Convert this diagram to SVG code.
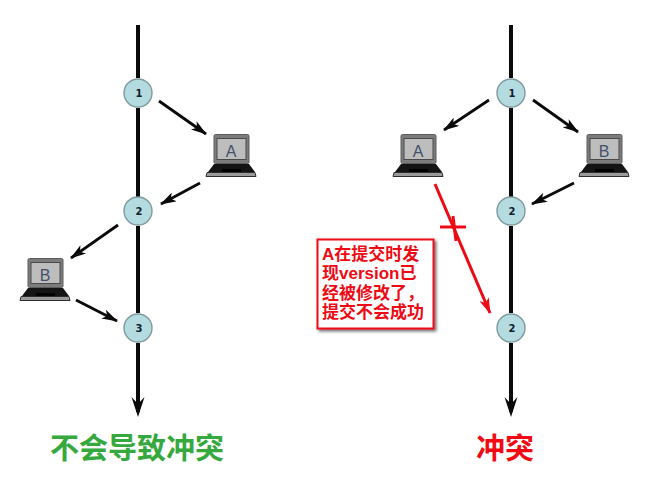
<svg xmlns="http://www.w3.org/2000/svg" xmlns:xlink="http://www.w3.org/1999/xlink" width="648" height="488" viewBox="0 0 648 488">
<style>
.spine{stroke:#0a0a0a;stroke-width:4;fill:none}
.arr{stroke:#0a0a0a;stroke-width:2.800;fill:none}
.red{stroke:#ee0a14;stroke-width:3;fill:none}
.circ{fill:#b4dbdf;stroke:#7f9a9e;stroke-width:1.400}
.num{font:bold 10px "DejaVu Sans",sans-serif;fill:#10202c;text-anchor:middle}
.lbl{font:16px "Liberation Sans",sans-serif;fill:#44506a;text-anchor:middle}
.note{font:bold 17px "Liberation Sans","Noto Sans CJK SC",sans-serif;fill:#ee0a14}
.title{font:bold 29px "Noto Sans CJK SC",sans-serif;text-anchor:middle}
</style>
<defs>
<marker id="ah" viewBox="0 0 16 10" refX="15" refY="5" markerWidth="16" markerHeight="10" markerUnits="userSpaceOnUse" orient="auto"><path d="M0 0L16 5L0 10L4 5Z" fill="#0a0a0a"/></marker>
<marker id="ahr" viewBox="0 0 16 10" refX="15" refY="5" markerWidth="16" markerHeight="10" markerUnits="userSpaceOnUse" orient="auto"><path d="M0 0L16 5L0 10L4 5Z" fill="#ee0a14"/></marker>
<filter id="sh" x="-10%" y="-10%" width="125%" height="125%"><feDropShadow dx="2" dy="2" stdDeviation="1.500" flood-color="#000" flood-opacity=".55"/></filter>
<g id="laptop">
<rect x="8" y="0.500" width="35" height="29" rx="1.500" fill="#7c7c7c" stroke="#5c5c5c"/>
<rect x="11" y="4.500" width="29" height="21" fill="#bdbdbd" stroke="#4a4a4a" stroke-width="1"/>
<path d="M8 30H43L49 38H2Z" fill="#141414"/>
<rect x="16" y="35" width="19" height="3" fill="#000"/>
<path d="M1 38.500H49L50 42.500H0Z" fill="#9a9a9a" stroke="#2e2e2e" stroke-width="1"/>
</g>
</defs>
<rect width="648" height="488" fill="#fff"/>
<g id="connectors">
<path class="spine" d="M138 25V78M138 108V197M138 226V313M138 343V412"/>
<path class="spine" d="M511 25V78M511 108V197M511 226V313M511 343V412"/>
<path d="M131.500 397L138 417L144.500 397L138 404Z" fill="#0a0a0a"/>
<path d="M504.500 397L511 417L517.500 397L511 404Z" fill="#0a0a0a"/>
<path class="arr" marker-end="url(#ah)" d="M159 101L206 134"/>
<path class="arr" marker-end="url(#ah)" d="M200 183L161 204"/>
<path class="arr" marker-end="url(#ah)" d="M118 225L71 258"/>
<path class="arr" marker-end="url(#ah)" d="M76 300L117 321"/>
<path class="arr" marker-end="url(#ah)" d="M489 100L444 130"/>
<path class="arr" marker-end="url(#ah)" d="M533 100L578 132"/>
<path class="arr" marker-end="url(#ah)" d="M574 183L532 204"/>
<path class="red" marker-end="url(#ahr)" d="M435 184L490 313"/>
<path class="red" d="M440 227H466" stroke-width="2.400"/>
<path class="red" d="M453 216L456 241" stroke-width="4.500"/>
</g>
<g id="node-1"><circle class="circ" cx="138" cy="93" r="14"/><text class="num" x="139" y="97">1</text></g>
<g id="node-2"><circle class="circ" cx="138" cy="211" r="14"/><text class="num" x="139" y="215">2</text></g>
<g id="node-3"><circle class="circ" cx="138" cy="328" r="14"/><text class="num" x="139" y="332">3</text></g>
<g id="node-r1"><circle class="circ" cx="511" cy="93" r="14"/><text class="num" x="512" y="97">1</text></g>
<g id="node-r2"><circle class="circ" cx="511" cy="211" r="14"/><text class="num" x="512" y="215">2</text></g>
<g id="node-r3"><circle class="circ" cx="511" cy="328" r="14"/><text class="num" x="512" y="332">2</text></g>
<g id="laptop-a-left"><use xlink:href="#laptop" href="#laptop" x="206" y="134"/><text class="lbl" x="231" y="157">A</text></g>
<g id="laptop-b-left"><use xlink:href="#laptop" href="#laptop" x="20" y="258"/><text class="lbl" x="45" y="281">B</text></g>
<g id="laptop-a-right"><use xlink:href="#laptop" href="#laptop" x="393" y="134"/><text class="lbl" x="418" y="157">A</text></g>
<g id="laptop-b-right"><use xlink:href="#laptop" href="#laptop" x="579" y="134"/><text class="lbl" x="604" y="157">B</text></g>
<g id="note">
<rect x="317.500" y="239.500" width="116" height="89" fill="#fff" stroke="#ee0a14" stroke-width="2" filter="url(#sh)"/>
<text class="note" x="322" y="260">A在提交时发</text>
<text class="note" x="322" y="279">现version已</text>
<text class="note" x="322" y="299">经被修改了，</text>
<text class="note" x="322" y="318">提交不会成功</text>
</g>
<text class="title" x="137" y="459" fill="#35a83e">不会导致冲突</text>
<text class="title" x="505" y="459" fill="#f00a14">冲突</text>
</svg>
